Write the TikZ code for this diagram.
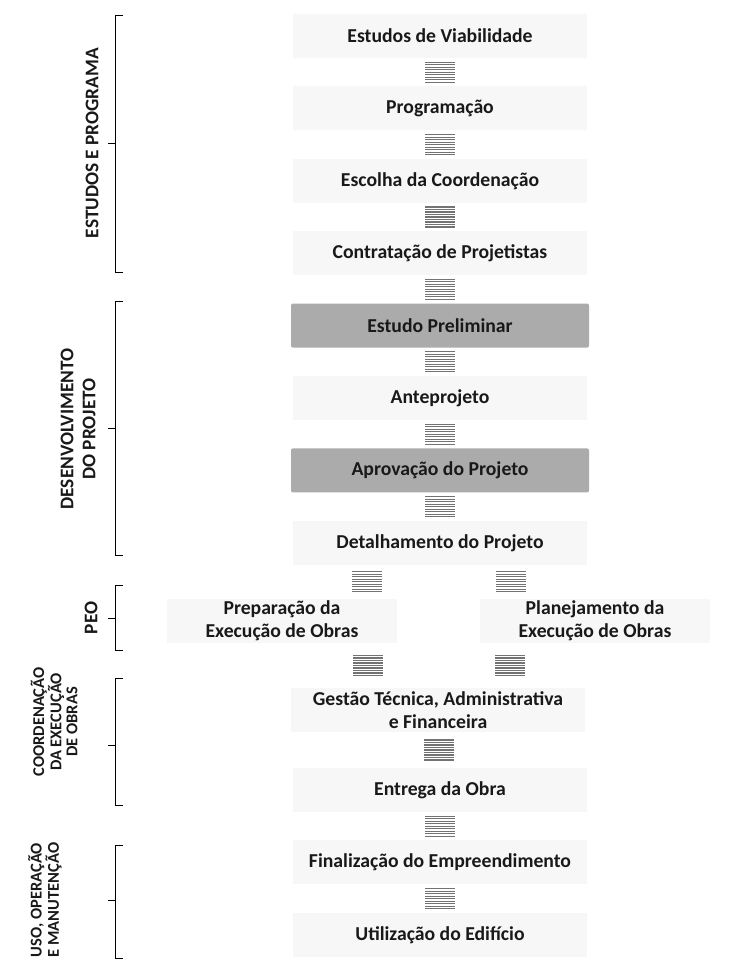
\documentclass[tikz,border=0pt]{standalone}
\usepackage{fontspec}
\setmainfont{Carlito}
\usetikzlibrary{positioning}
\usetikzlibrary{calc}

\tikzset{
  etapa/.style={fill=black!3, minimum width=294pt, minimum height=44pt, inner sep=2pt, align=center, text=black!90, font=\fontsize{19.7}{23}\selectfont\bfseries},
  destaque/.style={etapa, fill=black!33, rounded corners=2pt, minimum width=298pt},
  faixa/.style={minimum width=30pt, minimum height=24pt, inner sep=0pt, fill=white,
    path picture={\foreach \k in {1,...,9}{\draw[black!55, line width=1.1pt] ([yshift=-\k*2.5pt+0.5pt]path picture bounding box.north west) -- ([yshift=-\k*2.5pt+0.5pt]path picture bounding box.north east);}}},
  fase/.style={rotate=90, align=center, inner sep=0pt, text=black!90, font=\fontsize{19.3}{22}\selectfont\bfseries}
}

\begin{document}
\begin{tikzpicture}[x=1pt, y=1pt, node distance=28pt]
\useasboundingbox (0,0) rectangle (742,-968);

% etapas do processo
\node[etapa] (viab) at (440,-36) {Estudos de Viabilidade};
\node[etapa, below=of viab] (prog) {Programação};
\node[etapa, below=of prog] (coord) {Escolha da Coordenação};
\node[etapa, below=of coord] (contr) {Contratação de Projetistas};
\node[destaque, below=of contr] (prelim) {Estudo Preliminar};
\node[etapa, below=of prelim] (antep) {Anteprojeto};
\node[destaque, below=of antep] (aprov) {Aprovação do Projeto};
\node[etapa, below=of aprov] (detal) {Detalhamento do Projeto};
\node[etapa, minimum width=230pt] (prep) at (282,-621) {Preparação da\\Execução de Obras};
\node[etapa, minimum width=230pt] (plan) at (595,-621) {Planejamento da\\Execução de Obras};
\node[etapa] (gest) at (438,-710) {Gestão Técnica, Administrativa\\e Financeira};
\node[etapa] (entr) at (440,-790) {Entrega da Obra};
\node[etapa, below=of entr] (final) {Finalização do Empreendimento};
\node[etapa, below=of final] (uso) {Utilização do Edifício};

% ligacoes
\foreach \a/\b in {viab/prog, prog/coord, coord/contr, contr/prelim, prelim/antep, antep/aprov, aprov/detal, gest/entr, entr/final, final/uso}
  \path (\a) -- (\b) node[faixa, midway] {};
\path (detal) -- (prep) node[faixa, midway, xshift=6pt] {};
\path (detal) -- (plan) node[faixa, midway, xshift=-6.5pt] {};
\path (prep) -- (gest) node[faixa, midway, xshift=8pt] {};
\path (plan) -- (gest) node[faixa, midway, xshift=-6.5pt] {};

% fases
\foreach \t/\m/\b in {15/143/272, 301/428/555, 585/618/650, 678/745/805, 845/900/958}
  \draw[line width=0.8pt] (123,-\t) -- (115,-\t) -- (115,-\b) -- (123,-\b) (115,-\m) -- (108,-\m);
\node[fase] (f1) at (92,-143) {ESTUDOS E PROGRAMA};
\node[fase] (f2) at (78,-429) {DESENVOLVIMENTO\\DO PROJETO};
\node[fase] (f3) at (91,-618) {PEO};
\node[fase, font=\fontsize{16.5}{16}\selectfont\bfseries] (f4) at (54,-722) {COORDENAÇÃO\\DA EXECUÇÃO\\DE OBRAS};
\node[fase, font=\fontsize{16.5}{15}\selectfont\bfseries] (f5) at (45,-900) {USO, OPERAÇÃO\\E MANUTENÇÃO};
\end{tikzpicture}
\end{document}
